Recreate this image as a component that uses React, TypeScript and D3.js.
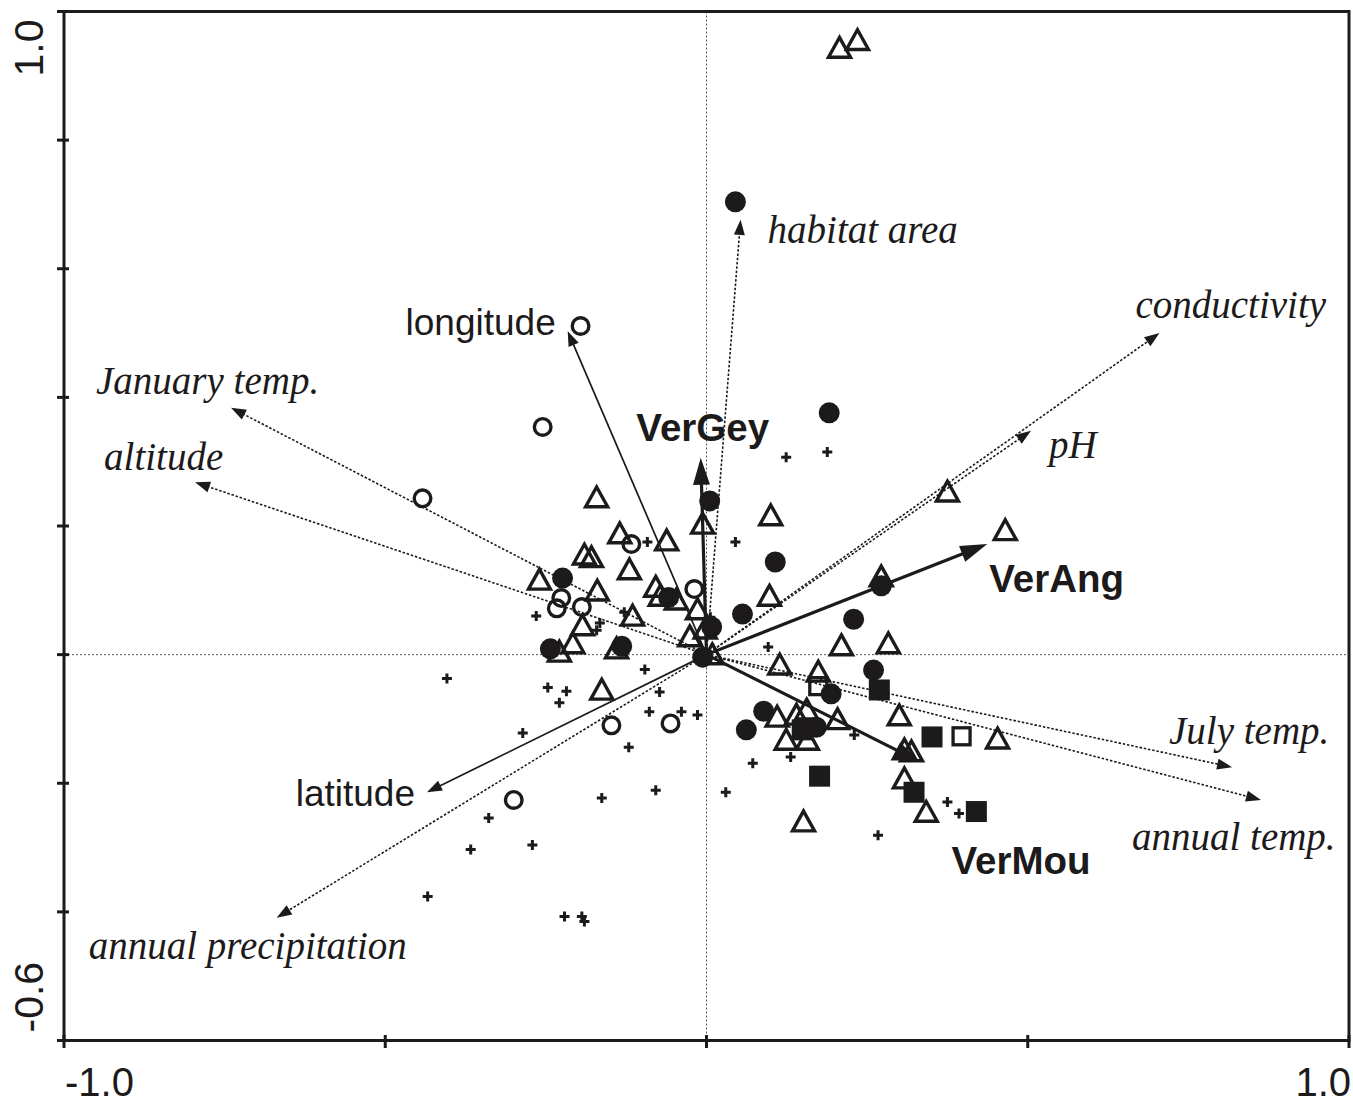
import React from "react";
import * as d3 from "d3";

// ---- Data (CCA biplot scores) ----
const xTicks = [-1.0, -0.5, 0, 0.5, 1.0];
const yTicks = [-0.6, -0.4, -0.2, 0, 0.2, 0.4, 0.6, 0.8, 1.0];
const xTickLabels = ["-1.0", "1.0"];
const yTickLabels = ["-0.6", "1.0"];

const envNames = ["habitat area", "longitude", "January temp.", "altitude", "conductivity", "pH", "July temp.", "annual temp.", "latitude", "annual precipitation"];
const envX = [0.053, -0.216, -0.740, -0.796, 0.705, 0.505, 0.818, 0.863, -0.435, -0.669];
const envY = [0.676, 0.503, 0.384, 0.268, 0.500, 0.348, -0.175, -0.226, -0.214, -0.409];

const speciesNames = ["VerGey", "VerAng", "VerMou"];
const speciesX = [-0.009, 0.437, 0.333];
const speciesY = [0.306, 0.172, -0.167];

const openTriangles: [number, number][] = [
  [0.207, 0.941], [0.235, 0.953], [-0.171, 0.242], [-0.006, 0.201], [0.100, 0.214],
  [-0.135, 0.186], [-0.062, 0.175], [-0.190, 0.153], [-0.179, 0.149], [-0.120, 0.130],
  [-0.260, 0.114], [-0.170, 0.097], [-0.079, 0.103], [-0.072, 0.089], [-0.047, 0.083],
  [0.098, 0.089], [0.272, 0.119], [0.375, 0.251], [0.465, 0.191], [-0.115, 0.058],
  [-0.193, 0.043], [-0.014, 0.068], [-0.026, 0.026], [-0.002, 0.038], [-0.208, 0.015],
  [-0.229, 0.002], [-0.140, 0.007], [0.009, -0.002], [0.210, 0.012], [0.283, 0.015],
  [0.114, -0.018], [0.174, -0.029], [-0.163, -0.057], [0.300, -0.097], [0.110, -0.099],
  [0.140, -0.096], [0.156, -0.088], [0.204, -0.103], [0.124, -0.135], [0.157, -0.135],
  [0.308, -0.150], [0.319, -0.153], [0.453, -0.133], [0.308, -0.195], [0.342, -0.247],
  [0.151, -0.262],
];

const filledCircles: [number, number][] = [
  [0.045, 0.704], [0.191, 0.376], [0.005, 0.239], [0.107, 0.144], [-0.224, 0.119],
  [-0.059, 0.089], [0.056, 0.063], [0.229, 0.055], [0.272, 0.107], [0.008, 0.043],
  [-0.243, 0.009], [-0.132, 0.013], [-0.006, -0.004], [0.260, -0.024], [0.194, -0.061],
  [0.089, -0.088], [0.062, -0.117], [0.171, -0.113],
];

const openCircles: [number, number][] = [
  [-0.196, 0.511], [-0.255, 0.354], [-0.442, 0.243], [-0.117, 0.172], [-0.019, 0.102],
  [-0.226, 0.088], [-0.233, 0.072], [-0.194, 0.074], [-0.148, -0.110], [-0.056, -0.107],
  [-0.300, -0.226],
];

const filledSquares: [number, number][] = [
  [0.269, -0.055], [0.149, -0.117], [0.176, -0.189], [0.351, -0.128], [0.323, -0.214],
  [0.420, -0.244],
];

const openSquares: [number, number][] = [
  [0.174, -0.049], [0.397, -0.127],
];

const pluses: [number, number][] = [
  [0.124, 0.307], [0.188, 0.315], [0.045, 0.175], [-0.092, 0.175], [-0.265, 0.060],
  [-0.128, 0.066], [-0.166, 0.049], [-0.171, 0.038], [0.096, 0.012], [-0.096, -0.023],
  [-0.404, -0.037], [-0.247, -0.051], [-0.218, -0.057], [-0.229, -0.075], [-0.073, -0.058],
  [-0.089, -0.089], [-0.039, -0.089], [-0.014, -0.094], [-0.286, -0.122], [-0.121, -0.144],
  [0.230, -0.125], [0.131, -0.159], [0.072, -0.169], [0.030, -0.214], [-0.079, -0.211],
  [-0.163, -0.223], [-0.339, -0.254], [-0.271, -0.296], [-0.367, -0.303], [-0.434, -0.376],
  [-0.221, -0.407], [-0.194, -0.407], [-0.190, -0.415], [0.375, -0.229], [0.393, -0.247],
  [0.267, -0.281], [0.006, 0.058], [0.008, 0.033],
];

// ---- Layout (pixels, not data) ----
const W = 1353;
const H = 1104;
const INK = "#1c1a1b";
const serif = "'Liberation Serif', 'Times New Roman', serif";
const sans = "'Liberation Sans', Arial, sans-serif";

type LabelStyle = { dx: number; dy: number; anchor: string; kind: "serif" | "sans" | "bold"; dotted: boolean };
const envLayout: Record<string, LabelStyle> = {
  "habitat area": { dx: 27, dy: 23, anchor: "start", kind: "serif", dotted: true },
  "longitude": { dx: -12, dy: 4, anchor: "end", kind: "sans", dotted: false },
  "January temp.": { dx: -135, dy: -14, anchor: "start", kind: "serif", dotted: true },
  "altitude": { dx: -91, dy: -12, anchor: "start", kind: "serif", dotted: true },
  "conductivity": { dx: -24, dy: -15, anchor: "start", kind: "serif", dotted: true },
  "pH": { dx: 18, dy: 27, anchor: "start", kind: "serif", dotted: true },
  "July temp.": { dx: -63, dy: -23, anchor: "start", kind: "serif", dotted: true },
  "annual temp.": { dx: -129, dy: 50, anchor: "start", kind: "serif", dotted: true },
  "latitude": { dx: -12, dy: 14, anchor: "end", kind: "sans", dotted: false },
  "annual precipitation": { dx: -188, dy: 41, anchor: "start", kind: "serif", dotted: true },
};
const speciesLayout: Record<string, { dx: number; dy: number; anchor: string }> = {
  VerGey: { dx: 2, dy: -17, anchor: "middle" },
  VerAng: { dx: 2, dy: 48, anchor: "start" },
  VerMou: { dx: 31, dy: 112, anchor: "start" },
};

function arrowGeom(ox: number, oy: number, tx: number, ty: number, len: number, half: number) {
  const d = Math.hypot(tx - ox, ty - oy);
  const ux = (tx - ox) / d;
  const uy = (ty - oy) / d;
  const bx = tx - ux * len;
  const by = ty - uy * len;
  const px = -uy;
  const py = ux;
  const head = `M${tx},${ty}L${bx + px * half},${by + py * half}L${bx - px * half},${by - py * half}Z`;
  return { bx: bx + ux * 2, by: by + uy * 2, head };
}

export default function App() {
  const x = d3.scaleLinear().domain([-1, 1]).range([64, 1349]);
  const y = d3.scaleLinear().domain([-0.6, 1.0]).range([1040.5, 11.5]);
  const ox = x(0);
  const oy = y(0);

  const tri = (cx: number, cy: number) => `M${cx},${cy - 12}L${cx + 11},${cy + 7.8}L${cx - 11},${cy + 7.8}Z`;

  const fontFor = (k: string) => (k === "serif" ? serif : sans);

  return (
    <svg width={W} height={H} style={{ position: "absolute", left: 0, top: 0, background: "#fff" }}>
      <rect x={0} y={0} width={W} height={H} fill="#fff" />
      {/* zero lines */}
      <line x1={ox} x2={ox} y1={y(1)} y2={y(-0.6)} stroke="#555" strokeWidth={1} strokeDasharray="2,2" />
      <line x1={x(-1)} x2={x(1)} y1={oy} y2={oy} stroke="#555" strokeWidth={1} strokeDasharray="2,2" />

      {/* points */}
      <g>
        {pluses.map(([a, b], i) => (
          <path key={"p" + i} d={`M${x(a) - 5},${y(b)}H${x(a) + 5}M${x(a)},${y(b) - 5}V${y(b) + 5}`} stroke={INK} strokeWidth={3} fill="none" />
        ))}
        {filledCircles.map(([a, b], i) => (
          <circle key={"fc" + i} cx={x(a)} cy={y(b)} r={10.5} fill={INK} />
        ))}
        {filledSquares.map(([a, b], i) => (
          <rect key={"fs" + i} x={x(a) - 10.5} y={y(b) - 10.5} width={21} height={21} fill={INK} />
        ))}
        {openSquares.map(([a, b], i) => (
          <rect key={"os" + i} x={x(a) - 8.5} y={y(b) - 8.5} width={17} height={17} fill="none" stroke={INK} strokeWidth={3.3} />
        ))}
        {openCircles.map(([a, b], i) => (
          <circle key={"oc" + i} cx={x(a)} cy={y(b)} r={8.3} fill="none" stroke={INK} strokeWidth={3.4} />
        ))}
        {openTriangles.map(([a, b], i) => (
          <path key={"t" + i} d={tri(x(a), y(b))} fill="none" stroke={INK} strokeWidth={3.4} strokeLinejoin="miter" />
        ))}
      </g>

      {/* environmental arrows */}
      {envNames.map((n, i) => {
        const tx = x(envX[i]);
        const ty = y(envY[i]);
        const L = envLayout[n];
        const g = arrowGeom(ox, oy, tx, ty, 15, 5.5);
        return (
          <g key={n}>
            <line x1={ox} y1={oy} x2={g.bx} y2={g.by} stroke={INK} strokeWidth={L.dotted ? 1.6 : 1.7} strokeDasharray={L.dotted ? "2.5,1.8" : undefined} />
            <path d={g.head} fill={INK} />
            <text
              x={tx + L.dx}
              y={ty + L.dy}
              textAnchor={L.anchor}
              fontFamily={fontFor(L.kind)}
              fontStyle={L.kind === "serif" ? "italic" : "normal"}
              fontSize={L.kind === "serif" ? 39 : 37}
              fill={INK}
            >
              {n}
            </text>
          </g>
        );
      })}

      {/* species arrows */}
      {speciesNames.map((n, i) => {
        const tx = x(speciesX[i]);
        const ty = y(speciesY[i]);
        const L = speciesLayout[n];
        const g = arrowGeom(ox, oy, tx, ty, 27, 8.5);
        return (
          <g key={n}>
            <line x1={ox} y1={oy} x2={g.bx} y2={g.by} stroke={INK} strokeWidth={3.2} />
            <path d={g.head} fill={INK} />
            <text x={tx + L.dx} y={ty + L.dy} textAnchor={L.anchor} fontFamily={sans} fontWeight="bold" fontSize={38.5} fill={INK}>
              {n}
            </text>
          </g>
        );
      })}

      {/* frame */}
      <rect x={x(-1)} y={y(1)} width={x(1) - x(-1)} height={y(-0.6) - y(1)} fill="none" stroke={INK} strokeWidth={3} />
      {yTicks.map((t) => (
        <line key={"yt" + t} x1={57} x2={69} y1={y(t)} y2={y(t)} stroke={INK} strokeWidth={3} />
      ))}
      {xTicks.map((t) => (
        <line key={"xt" + t} x1={x(t)} x2={x(t)} y1={1035} y2={1048} stroke={INK} strokeWidth={3} />
      ))}

      {/* tick labels */}
      <text transform={`translate(43,${y(1) + 8}) rotate(-90)`} textAnchor="end" fontFamily={sans} fontSize={41} fill={INK}>
        {yTickLabels[1]}
      </text>
      <text transform={`translate(43,${y(-0.6) - 8}) rotate(-90)`} textAnchor="start" fontFamily={sans} fontSize={41} fill={INK}>
        {yTickLabels[0]}
      </text>
      <text x={x(-1) + 1} y={1096} textAnchor="start" fontFamily={sans} fontSize={40} fill={INK}>
        {xTickLabels[0]}
      </text>
      <text x={x(1) + 2} y={1096} textAnchor="end" fontFamily={sans} fontSize={40} fill={INK}>
        {xTickLabels[1]}
      </text>
    </svg>
  );
}
